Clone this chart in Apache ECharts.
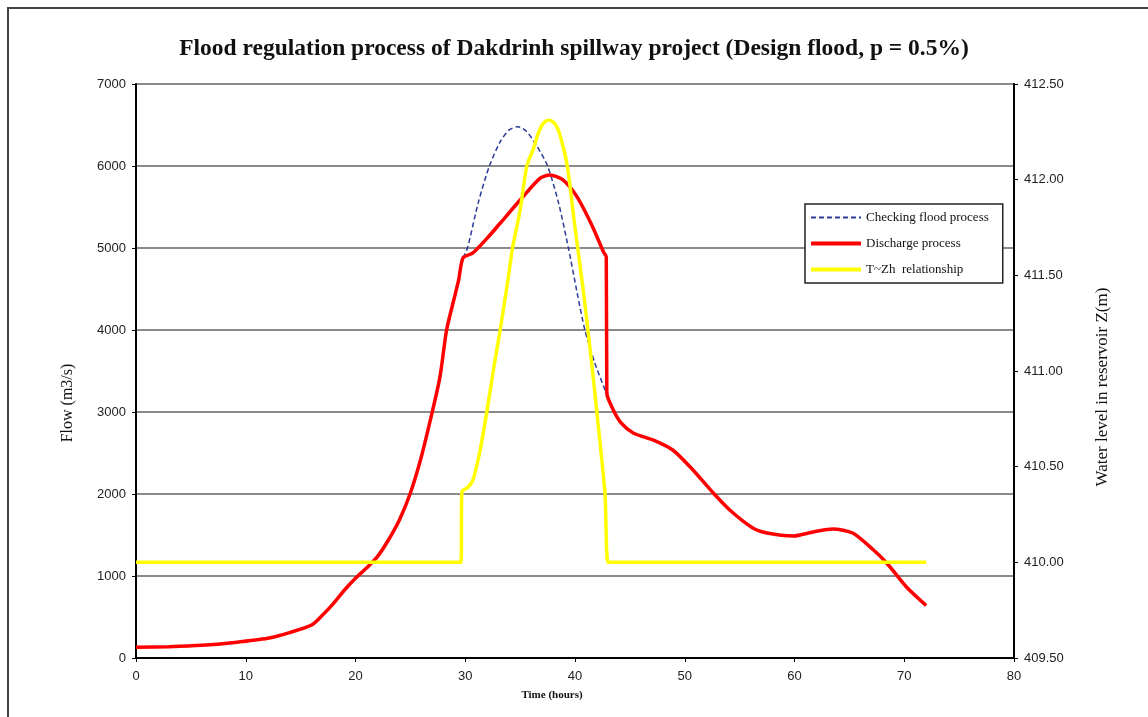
<!DOCTYPE html>
<html>
<head>
<meta charset="utf-8">
<script src="https://cdn.jsdelivr.net/npm/echarts@6/dist/echarts.min.js"></script>
<style>
html,body{margin:0;padding:0;background:#fff;}
#chart{width:1148px;height:717px;}
</style>
</head>
<body>
<div id="chart"></div>
<script>
// ---- Data ----
const titleText = 'Flood regulation process of Dakdrinh spillway project (Design flood, p = 0.5%)';
const seriesNames = ['Checking flood process', 'Discharge process', 'T~Zh  relationship'];
const xTicks = [0, 10, 20, 30, 40, 50, 60, 70, 80];
const flowTicks = [0, 1000, 2000, 3000, 4000, 5000, 6000, 7000];
const levelTicks = [409.5, 410.0, 410.5, 411.0, 411.5, 412.0, 412.5];

// Checking flood process (inflow), visible part
const inflowTime = [29.8, 30.2, 31.2, 32.2, 33.2, 34.0, 34.8, 35.6, 36.5, 37.5, 38.5, 39.4, 40.2, 40.9, 41.8, 42.85];
const inflowFlow = [4880, 5000, 5560, 6000, 6300, 6440, 6480, 6420, 6250, 6000, 5550, 5000, 4450, 4000, 3600, 3230];

// Discharge process
const dischargeTime = [0, 3, 6, 9, 12, 14, 16, 17, 18, 19, 20, 21, 22, 23, 24, 25, 26, 27, 27.7, 28.3, 29.0, 29.4, 29.8, 30.7, 32.0, 33.2, 35.0, 36.8, 37.7, 38.9, 40.2, 41.6, 42.6, 42.85, 42.9, 43.4, 44.2, 45.3, 47.1, 48.9, 50.5, 52.6, 54.1, 56.2, 57.5, 59.9, 61.7, 63.5, 65.3, 67.2, 68.4, 70.2, 72];
const dischargeFlow = [130, 138, 155, 190, 240, 310, 402, 524, 667, 829, 972, 1097, 1236, 1439, 1683, 2012, 2455, 3004, 3431, 4000, 4390, 4610, 4880, 4940, 5120, 5305, 5585, 5850, 5890, 5830, 5620, 5260, 4950, 4890, 3230, 3050, 2866, 2744, 2659, 2537, 2329, 2012, 1805, 1585, 1524, 1488, 1537, 1573, 1524, 1317, 1159, 866, 640];

// T~Zh relationship (reservoir water level)
const levelTime = [0, 29.0, 29.6, 29.7, 30.2, 30.7, 31.3, 31.95, 32.55, 33.17, 33.9, 34.3, 35.0, 35.6, 36.2, 36.7, 37.2, 37.7, 38.2, 38.6, 39.3, 40.0, 40.8, 41.5, 42.0, 42.73, 43.0, 43.5, 72];
const levelZ = [410, 410, 410, 410.37, 410.39, 410.43, 410.57, 410.78, 411.0, 411.21, 411.48, 411.64, 411.84, 412.07, 412.16, 412.25, 412.30, 412.31, 412.29, 412.24, 412.07, 411.75, 411.40, 411.05, 410.78, 410.36, 410.0, 410.0, 410.0];

// ---- Build ----
const zip = (a, b) => a.map((v, i) => [v, b[i]]);
const chart = echarts.init(document.getElementById('chart'), null, {renderer: 'canvas'});
const tickFont = {fontFamily: 'Liberation Sans, Arial, sans-serif', fontSize: 13, color: '#222'};
const serif = 'Liberation Serif, Times New Roman, serif';
const legendWidths = [2, 4, 4];

chart.setOption({
  animation: false,
  backgroundColor: '#fff',
  title: {
    text: titleText,
    left: 'center',
    top: 32,
    textStyle: {fontFamily: serif, fontWeight: 'bold', fontSize: 23.5, color: '#111'}
  },
  graphic: [{
    type: 'rect',
    shape: {x: 8, y: 8, width: 1160, height: 730},
    style: {fill: 'none', stroke: '#444', lineWidth: 2},
    silent: true, z: -1
  }],
  legend: {
    orient: 'vertical',
    left: 805,
    top: 204,
    padding: [7, 14, 7, 4],
    itemWidth: 50,
    itemHeight: 14,
    itemGap: 13,
    backgroundColor: '#fff',
    borderColor: '#222',
    borderWidth: 1.5,
    itemStyle: {opacity: 0},
    textStyle: {fontFamily: serif, fontSize: 13, color: '#111'},
    data: seriesNames.map((n, i) => ({name: n, lineStyle: {width: legendWidths[i]}}))
  },
  grid: {left: 136, right: 134, top: 84, bottom: 59, show: false},
  xAxis: {
    type: 'value',
    min: 0, max: 80, interval: 10,
    name: 'Time (hours)',
    nameLocation: 'middle',
    nameGap: 32,
    nameTextStyle: {fontFamily: serif, fontWeight: 'bold', fontSize: 11, color: '#111', padding: [0, 46, 0, 0]},
    axisLine: {show: true, onZero: false, lineStyle: {color: '#000', width: 2}},
    axisTick: {show: true, length: 4, lineStyle: {color: '#000'}},
    axisLabel: Object.assign({margin: 12, formatter: v => xTicks.includes(v) ? String(v) : ''}, tickFont),
    splitLine: {show: false}
  },
  yAxis: [{
    type: 'value',
    min: 0, max: 7000, interval: 1000,
    position: 'left',
    name: 'Flow (m3/s)',
    nameLocation: 'middle',
    nameGap: 60,
    nameTextStyle: {fontFamily: serif, fontSize: 16, color: '#111', padding: [0, 64, 0, 0]},
    axisLine: {show: true, lineStyle: {color: '#000', width: 2}},
    axisTick: {show: true, length: 4, lineStyle: {color: '#000'}},
    axisLabel: Object.assign({margin: 10, formatter: v => flowTicks.includes(v) ? String(v) : ''}, tickFont),
    splitLine: {show: true, lineStyle: {color: '#8a8a8a', width: 2}}
  }, {
    type: 'value',
    min: 409.5, max: 412.5, interval: 0.5,
    position: 'right',
    name: 'Water level in reservoir Z(m)',
    nameLocation: 'middle',
    nameGap: 80,
    nameRotate: 90,
    nameTextStyle: {fontFamily: serif, fontSize: 17, color: '#111', padding: [0, 32, 0, 0]},
    axisLine: {show: true, lineStyle: {color: '#000', width: 2}},
    axisTick: {show: true, length: 4, lineStyle: {color: '#000'}},
    axisLabel: Object.assign({margin: 10, formatter: v => levelTicks.some(t => Math.abs(t - v) < 1e-6) ? v.toFixed(2) : ''}, tickFont),
    splitLine: {show: false}
  }],
  series: [{
    name: seriesNames[0],
    type: 'line',
    yAxisIndex: 0,
    data: zip(inflowTime, inflowFlow),
    showSymbol: false, symbol: 'none',
    smooth: 0.25,
    lineStyle: {color: '#2b3a9a', width: 1.5, type: [5, 3]},
    itemStyle: {color: '#2b3a9a'},
    z: 2
  }, {
    name: seriesNames[1],
    type: 'line',
    yAxisIndex: 0,
    data: zip(dischargeTime, dischargeFlow),
    showSymbol: false, symbol: 'none',
    smooth: 0.25,
    lineStyle: {color: '#ff0000', width: 3.5},
    itemStyle: {color: '#ff0000'},
    z: 3
  }, {
    name: seriesNames[2],
    type: 'line',
    yAxisIndex: 1,
    data: zip(levelTime, levelZ),
    showSymbol: false, symbol: 'none',
    smooth: 0.25,
    lineStyle: {color: '#ffff00', width: 3.5},
    itemStyle: {color: '#ffff00'},
    z: 4
  }]
});
</script>
</body>
</html>
